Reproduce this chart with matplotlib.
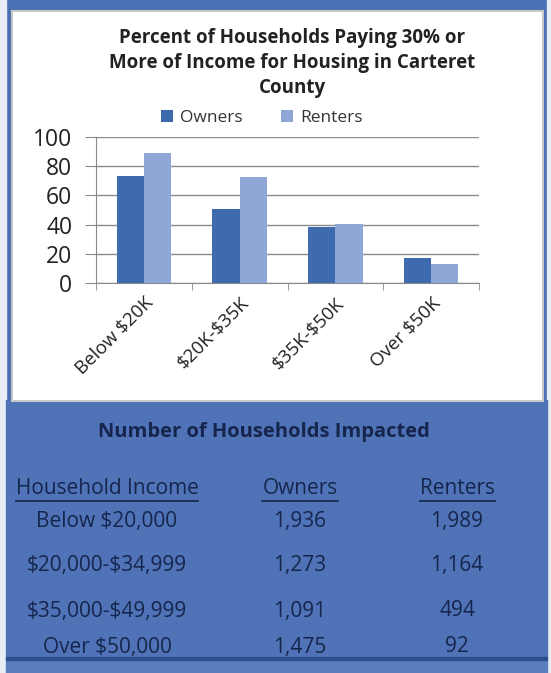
import matplotlib.pyplot as plt
from matplotlib.patches import Rectangle
import numpy as np

plt.rcParams['font.family'] = ['Open Sans', 'DejaVu Sans']
plt.rcParams['text.parse_math'] = False

categories = ["Below $20K", "$20K-$35K", "$35K-$50K", "Over $50K"]
owners_pct = [73.5, 50.5, 38.5, 17]
renters_pct = [89, 72.5, 40.5, 13]

income_rows = ["Below $20,000", "$20,000-$34,999", "$35,000-$49,999", "Over $50,000"]
owners_count = ["1,936", "1,273", "1,091", "1,475"]
renters_count = ["1,989", "1,164", "494", "92"]

W, H = 551, 673
fig = plt.figure(figsize=(W / 100, H / 100), dpi=100)
fig.patch.set_facecolor("#4a6fb3")


def px(x, y):
    # pixel coords (top-left origin) -> figure fraction
    return x / W, 1 - y / H


# backgrounds
bg = fig.add_axes([0, 0, 1, 1])
bg.set_xlim(0, W)
bg.set_ylim(H, 0)
bg.axis("off")
bg.add_patch(Rectangle((0, 0), 6, H, color="#e8ecf4", zorder=0))
bg.add_patch(Rectangle((W - 4, 0), 4, H, color="#e8ecf4", zorder=0))
bg.add_patch(Rectangle((6, 400), W - 10, 258, color="#4f73b6", zorder=0))
bg.add_patch(Rectangle((6, 657), W - 10, 3, color="#2f4f8c", zorder=1))
bg.add_patch(Rectangle((6, 660), W - 10, 13, color="#5b7dbf", zorder=0))
bg.add_patch(Rectangle((12, 11), 531, 390, facecolor="white",
                       edgecolor="#c8c8c8", lw=1.5, zorder=1))

# chart
owner_color = "#3e6aae"
renter_color = "#8fa7d7"
l, b = px(96, 283)
r, t = px(479, 137)
ax = fig.add_axes([l, b, r - l, t - b])
x = np.arange(len(categories))
w = 0.285
ax.bar(x - w / 2, owners_pct, w, color=owner_color, label="Owners", zorder=3)
ax.bar(x + w / 2, renters_pct, w, color=renter_color, label="Renters", zorder=3)
ax.set_xlim(-0.5, 3.5)
ax.set_ylim(0, 100)
ax.set_yticks(range(0, 101, 20))
ax.yaxis.grid(True, color="#8a8a8a", lw=1)
ax.set_axisbelow(True)
for s in ["top", "right"]:
    ax.spines[s].set_visible(False)
ax.spines["left"].set_color("#8a8a8a")
ax.spines["bottom"].set_color("#8a8a8a")
ax.tick_params(axis="y", labelsize=16.5, colors="#8a8a8a", labelcolor="#222222",
               length=8, pad=9)
ax.set_xticks(x)
ax.set_xticklabels(categories, rotation=45, ha="right", rotation_mode="anchor",
                   fontsize=13.5, color="#222222")
ax.tick_params(axis="x", length=0, pad=8)
ax.set_xticks(np.arange(-0.5, 4, 1), minor=True)
ax.tick_params(axis="x", which="minor", length=5, color="#8a8a8a")
ax.patch.set_alpha(0)

# title & legend
tx, ty = px(292, 63)
fig.text(tx, ty, "Percent of Households Paying 30% or\nMore of Income for Housing in Carteret\nCounty",
         ha="center", va="center", fontsize=13.5, fontweight="bold",
         color="#222222", linespacing=1.33)
fig.legend(loc="center", bbox_to_anchor=px(262, 118), ncol=2, frameon=False,
           fontsize=12.5, handlelength=0.7, handleheight=0.7, columnspacing=2.2,
           handletextpad=0.4, labelcolor="#333333")

# table
navy = "#16254d"
fig.text(*px(264, 432), "Number of Households Impacted", ha="center", va="center",
         fontsize=14.5, fontweight="bold", color=navy)
col_x = [107, 300, 457]
headers = ["Household Income", "Owners", "Renters"]
head_texts = []
for cx, h in zip(col_x, headers):
    head_texts.append(fig.text(*px(cx, 489), h, ha="center", va="center",
                               fontsize=15, color=navy))
fig.canvas.draw()
renderer = fig.canvas.get_renderer()
for tt in head_texts:
    bbox = tt.get_window_extent(renderer)
    bg.plot([bbox.x0, bbox.x1], [H - bbox.y0 + 1, H - bbox.y0 + 1], color=navy, lw=1.2)

row_y = [521, 566, 611, 647]
for ry, inc, o, rr in zip(row_y, income_rows, owners_count, renters_count):
    fig.text(*px(col_x[0], ry), inc, ha="center", va="center", fontsize=15, color=navy)
    fig.text(*px(col_x[1], ry), o, ha="center", va="center", fontsize=15, color=navy)
    fig.text(*px(col_x[2], ry), rr, ha="center", va="center", fontsize=15, color=navy)

fig.savefig("out.png", dpi=100)
